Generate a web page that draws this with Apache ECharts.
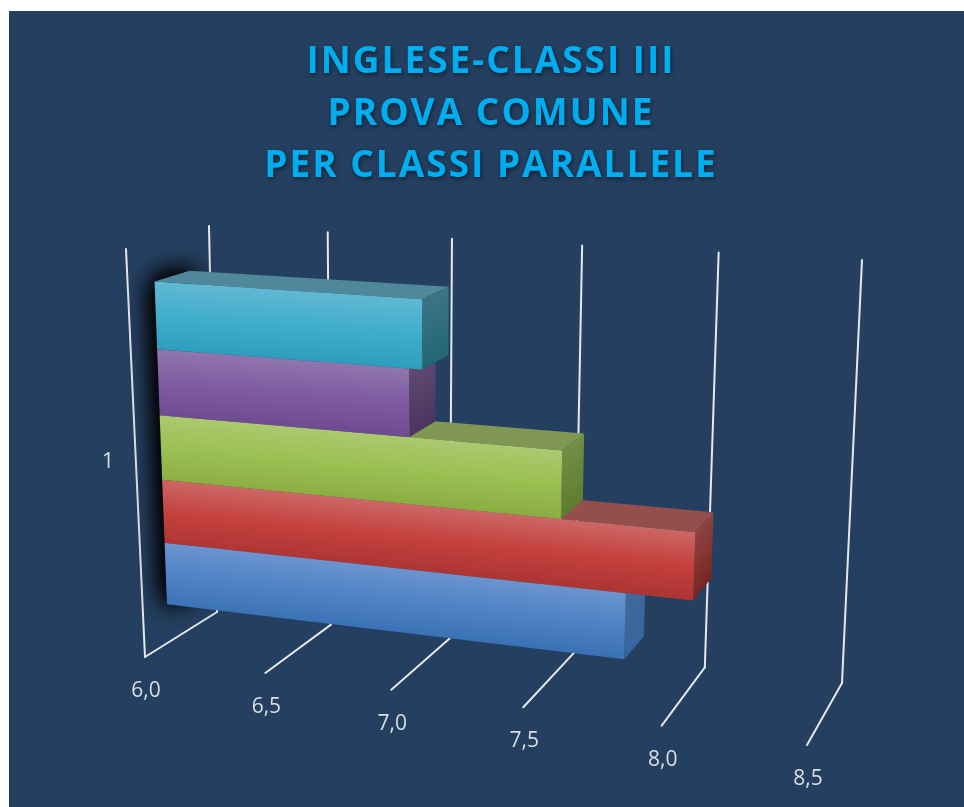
<!DOCTYPE html>
<html><head><meta charset="utf-8">
<style>
html,body{margin:0;padding:0;background:#fff;width:964px;height:807px;overflow:hidden}
#panel{position:absolute;left:9px;top:11px;width:955px;height:796px;background:#253f60}
#c{position:absolute;left:0;top:0;width:964px;height:807px}
</style>
<script src="https://cdn.jsdelivr.net/npm/echarts@6/dist/echarts.min.js"></script>
</head><body>
<div id="panel"></div><div id="c"></div>
<script>
var titleLines = ['INGLESE-CLASSI III','PROVA COMUNE','PER CLASSI PARALLELE'];
var categories = ['1'];
var xTicks = [6.0,6.5,7.0,7.5,8.0,8.5];
var valuesBlue   = [7.81];
var valuesRed    = [8.05];
var valuesGreen  = [7.57];
var valuesPurple = [7.0];
var valuesTeal   = [7.05];

// Hidden plotting rectangle whose scales drive the perspective mapping below
var G = {left:120, top:244, width:700, height:436};
// Box corners on screen: F front / B back, b bottom / t top, 0 at axis min / 1 at axis max
var C = {
  Fb0:[145,657], Fb1:[807,745], Bb0:[217,612], Bb1:[842,683],
  Ft0:[126,249], Ft1:[829,293], Bt0:[209,226], Bt1:[862,260]
};
var W = 1.125, WH = 1.076;
function lerp(a,b,s){return [a[0]+(b[0]-a[0])*s, a[1]+(b[1]-a[1])*s];}
function proj(t,h,d){
  var s = t/(t+(1-t)*W);
  var v = h/(h+(1-h)*WH);
  var fb = lerp(C.Fb0,C.Fb1,s), bb = lerp(C.Bb0,C.Bb1,s),
      ft = lerp(C.Ft0,C.Ft1,s), bt = lerp(C.Bt0,C.Bt1,s);
  return lerp(lerp(fb,bb,d), lerp(ft,bt,d), v);
}
function T(api,v){ return (api.coord([v,0])[0]-G.left)/G.width; }
function poly(pts,fill){
  return {type:'polygon',shape:{points:pts},style:{fill:fill}};
}
function grad(a,b,c,d,stops){
  // perpendicular to the top edge a-b, running down to the bottom edge c-d
  var mx=(a[0]+b[0])/2,my=(a[1]+b[1])/2, bx=(c[0]+d[0])/2,by=(c[1]+d[1])/2;
  var ex=b[0]-a[0],ey=b[1]-a[1],l=ex*ex+ey*ey;
  var k=((bx-mx)*ex+(by-my)*ey)/l;
  var px=bx-k*ex,py=by-k*ey;
  return new echarts.graphic.LinearGradient(mx,my,px,py,
    stops.map(function(c,i){return {offset:i/(stops.length-1),color:c};}),true);
}
var dF=0.325, dB=0.75, hGap=0.1015, hBar=0.161;
var palette = [
 {name:'A',data:valuesBlue,  front:['#6b94cf','#4f83c6','#3b72b6'],top:'#5b7fae',side:['#42699a','#37659d']},
 {name:'B',data:valuesRed,   front:['#cc6865','#c5413f','#ad3533'],top:'#944f4d',side:['#8e4340','#772723']},
 {name:'C',data:valuesGreen, front:['#abc96f','#9bc052','#8bae43'],top:'#7f9753',side:['#748f44','#5e7c2f']},
 {name:'D',data:valuesPurple,front:['#9076ae','#7f5ba2','#6f4c92'],top:'#6d5a85',side:['#5d4a72','#4b3560']},
 {name:'E',data:valuesTeal,  front:['#62b8d3','#3faecb','#2f9dbc'],top:'#4f879b',side:['#3c7486','#226674']}
];
function barRender(idx,p){
  return function(params,api){
    var t=T(api,api.value(1)), t0=T(api,xTicks[0]);
    var h0=hGap+idx*hBar, h1=h0+hBar;
    var a=proj(t0,h1,dF), b=proj(t,h1,dF), c=proj(t,h0,dF), d=proj(t0,h0,dF);
    var e=proj(t,h1,dB), f=proj(t,h0,dB), g=proj(t0,h1,dB);
    return {type:'group',children:[
      poly([g,e,b,a],p.top),
      poly([b,e,f,c],grad(b,e,c,f,p.side)),
      poly([a,b,c,d],grad(a,b,d,c,p.front))
    ]};
  };
}
var gridSeries = {
  type:'custom',coordinateSystem:'cartesian2d',silent:true,clip:false,z:1,
  data:xTicks.map(function(v){return [v,0];}),
  encode:{x:0,y:1},
  renderItem:function(params,api){
    var v=api.value(0),t=T(api,v),els=[];
    var a=proj(t,0,0),b=proj(t,0,1),c=proj(t,1,1);
    var stroke='#e4e8ec';
    function ln(p,q){return {type:'line',shape:{x1:p[0],y1:p[1],x2:q[0],y2:q[1]},style:{stroke:stroke,lineWidth:2,lineCap:'round'}};}
    els.push(ln(a,b),ln(b,c));
    if(params.dataIndex===0) els.push(ln(a,proj(t,1,0)));
    els.push({type:'text',style:{text:v.toFixed(1).replace('.',','),x:a[0]+1,y:a[1]+34,
      fill:'#d9dee3',font:'21px "Open Sans"',align:'center',verticalAlign:'middle'}});
    return {type:'group',children:els};
  }
};
var shadowSeries = {
  type:'custom',coordinateSystem:'cartesian2d',silent:true,clip:false,z:2,
  data:[[xTicks[0],0],[xTicks[0],0],[xTicks[0],0]],encode:{x:0,y:1},
  renderItem:function(params,api){
    var t0=T(api,xTicks[0]), h0=hGap, h1=hGap+5*hBar;
    return {type:'polygon',shape:{points:[proj(t0,h1,dF),proj(t0,h1,dB),proj(t0,h0,dB),proj(t0,h0,dF)]},
      style:{fill:'#000',shadowBlur:26,shadowColor:'#000'}};
  }
};
var series=[gridSeries,shadowSeries].concat(palette.map(function(p,i){
  return {type:'custom',name:p.name,coordinateSystem:'cartesian2d',silent:true,clip:false,z:3+i,
    data:p.data.map(function(v,j){return [j,v];}),encode:{x:1,y:0},renderItem:barRender(i,p)};
}));
var chart=echarts.init(document.getElementById('c'),null,{renderer:'canvas'});
// The title sits on its own canvas layer so that it can be letter-spaced
chart.getZr().painter.getLayer(1).ctx.letterSpacing='2px';
chart.setOption({
  animation:false,
  title:{text:titleLines.join('\n'),left:486,top:31,textAlign:'center',zlevel:1,
    textStyle:{color:'#00aeef',fontFamily:'"Open Sans"',fontWeight:'bold',fontSize:37,lineHeight:52,
      textShadowColor:'rgba(0,0,0,0.5)',textShadowBlur:4,textShadowOffsetX:1,textShadowOffsetY:2}},
  grid:G,
  xAxis:{type:'value',min:xTicks[0],max:xTicks[xTicks.length-1],interval:0.5,show:false},
  yAxis:{type:'category',data:categories,axisLine:{show:false},axisTick:{show:false},splitLine:{show:false},
    axisLabel:{color:'#d9dee3',fontFamily:'"Open Sans"',fontSize:21,margin:6}},
  series:series
});
</script>
</body></html>
